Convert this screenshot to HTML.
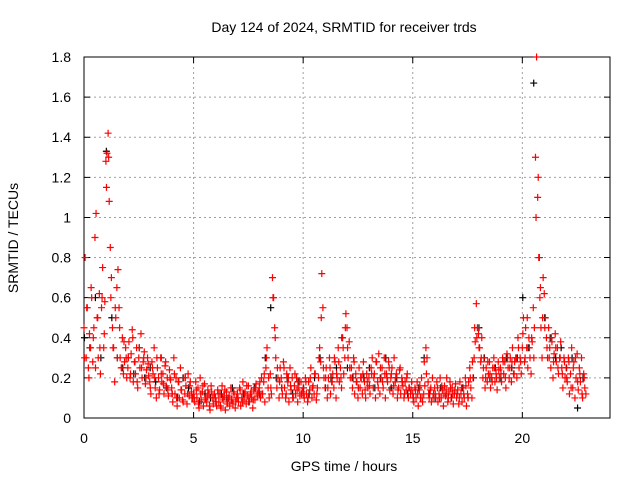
<!DOCTYPE html>
<html><head><meta charset="utf-8"><style>
body{margin:0;background:#fff;}
svg{display:block;font-family:"Liberation Sans",sans-serif;}
</style></head><body>
<svg id="chart" width="640" height="480" viewBox="0 0 640 480">
<rect width="640" height="480" fill="#fff"/>
<g id="grid"></g><g id="axes"></g><g id="black"></g><g id="red"></g>
<text x="344" y="32" font-size="14" text-anchor="middle">Day 124 of 2024, SRMTID for receiver trds</text>
<text x="344" y="471" font-size="14" text-anchor="middle">GPS time / hours</text>
<text x="18" y="238" font-size="14" text-anchor="middle" transform="rotate(-90 18 238)">SRMTID / TECUs</text>
</svg>
<script>
const xTicks=[0,5,10,15,20];
const yTicks=[0,0.2,0.4,0.6,0.8,1,1.2,1.4,1.6,1.8];
const yTickLabels=["0","0.2","0.4","0.6","0.8","1","1.2","1.4","1.6","1.8"];
const redStart=0, redStep=0.05;
const redValues=[
0.45,0.8,0.3,0.55,0.25,0.42,0.35,0.6,0.28,0.45,0.9,1.02,0.5,0.3,0.62,0.22,0.55,0.75,0.35,0.58,
1.28,1.32,1.42,1.08,0.85,0.7,0.45,0.35,0.18,0.5,0.65,0.74,0.55,0.3,0.25,0.4,0.22,0.28,0.35,0.2,
0.25,0.38,0.2,0.32,0.44,0.18,0.28,0.22,0.35,0.15,0.3,0.25,0.42,0.2,0.28,0.33,0.17,0.24,0.3,0.21,
0.18,0.12,0.28,0.22,0.35,0.15,0.1,0.25,0.2,0.14,0.3,0.18,0.22,0.12,0.26,0.16,0.2,0.11,0.24,0.19,
0.15,0.08,0.3,0.12,0.2,0.06,0.18,0.1,0.25,0.14,0.09,0.2,0.12,0.16,0.07,0.22,0.11,0.18,0.13,0.1,
0.12,0.08,0.18,0.1,0.15,0.05,0.2,0.09,0.13,0.06,0.17,0.1,0.08,0.14,0.12,0.04,0.16,0.1,0.07,0.12,
0.1,0.06,0.14,0.08,0.12,0.05,0.16,0.09,0.11,0.04,0.13,0.08,0.1,0.06,0.15,0.09,0.07,0.12,0.05,0.1,
0.12,0.08,0.15,0.06,0.1,0.18,0.09,0.13,0.07,0.11,0.16,0.08,0.12,0.1,0.05,0.14,0.09,0.17,0.11,0.13,
0.15,0.1,0.2,0.12,0.18,0.08,0.25,0.35,0.15,0.1,0.22,0.12,0.7,0.6,0.45,0.3,0.15,0.2,0.1,0.25,
0.2,0.12,0.28,0.15,0.1,0.22,0.18,0.08,0.25,0.14,0.2,0.1,0.16,0.12,0.2,0.08,0.15,0.11,0.18,0.13,
0.15,0.1,0.2,0.12,0.08,0.18,0.14,0.25,0.1,0.16,0.12,0.22,0.09,0.15,0.2,0.35,0.28,0.72,0.55,0.2,
0.15,0.25,0.1,0.2,0.3,0.12,0.18,0.22,0.15,0.28,0.1,0.2,0.35,0.18,0.25,0.15,0.4,0.22,0.3,0.52,
0.45,0.3,0.38,0.2,0.25,0.15,0.3,0.12,0.22,0.18,0.1,0.25,0.15,0.2,0.12,0.28,0.18,0.1,0.22,0.15,
0.2,0.12,0.25,0.3,0.15,0.22,0.1,0.28,0.18,0.32,0.12,0.2,0.25,0.15,0.3,0.1,0.22,0.18,0.28,0.14,
0.2,0.25,0.12,0.3,0.18,0.22,0.1,0.15,0.24,0.12,0.2,0.16,0.1,0.18,0.14,0.22,0.1,0.15,0.12,0.18,
0.12,0.08,0.15,0.1,0.18,0.06,0.14,0.1,0.2,0.08,0.12,0.16,0.35,0.3,0.18,0.1,0.14,0.08,0.2,0.12,
0.15,0.1,0.18,0.08,0.12,0.2,0.1,0.14,0.06,0.16,0.11,0.2,0.08,0.13,0.18,0.1,0.15,0.07,0.12,0.17,
0.1,0.14,0.07,0.18,0.12,0.08,0.15,0.1,0.2,0.06,0.12,0.18,0.25,0.15,0.1,0.2,0.3,0.38,0.57,0.45,
0.42,0.35,0.28,0.4,0.2,0.3,0.15,0.25,0.18,0.22,0.28,0.15,0.2,0.25,0.3,0.18,0.22,0.14,0.28,0.2,
0.25,0.18,0.3,0.22,0.28,0.15,0.32,0.25,0.2,0.3,0.18,0.35,0.22,0.28,0.3,0.2,0.4,0.25,0.3,0.22,
0.35,0.5,0.28,0.45,0.35,0.25,0.4,0.3,0.22,0.38,0.55,0.45,1.3,1.8,1.1,0.8,0.6,0.45,0.3,0.7,
0.62,0.5,0.4,0.3,0.45,0.35,0.25,0.38,0.2,0.32,0.42,0.28,0.35,0.22,0.3,0.38,0.25,0.15,0.3,0.2,
0.25,0.18,0.3,0.12,0.22,0.35,0.15,0.28,0.1,0.2,0.32,0.14,0.25,0.18,0.3,0.1,0.22,0.15,0.12];
const red2Start=0.025, red2Step=0.1;
const red2Values=[
0.3,0.55,0.2,0.65,0.4,0.25,0.5,0.35,0.6,0.42,
1.15,1.3,0.6,0.35,0.55,0.3,0.45,0.25,0.38,0.3,
0.3,0.22,0.4,0.28,0.18,0.35,0.25,0.3,0.2,0.27,
0.15,0.25,0.2,0.3,0.12,0.22,0.17,0.28,0.14,0.2,
0.12,0.22,0.1,0.18,0.14,0.08,0.2,0.12,0.16,0.1,
0.1,0.14,0.07,0.12,0.16,0.09,0.11,0.06,0.13,0.1,
0.08,0.12,0.06,0.1,0.14,0.07,0.11,0.09,0.13,0.08,
0.1,0.14,0.08,0.12,0.16,0.1,0.13,0.09,0.15,0.12,
0.18,0.12,0.22,0.3,0.2,0.15,0.6,0.4,0.25,0.18,
0.15,0.25,0.12,0.2,0.16,0.1,0.22,0.14,0.18,0.12,
0.12,0.18,0.1,0.2,0.15,0.22,0.12,0.3,0.5,0.25,
0.2,0.15,0.25,0.18,0.3,0.22,0.28,0.2,0.35,0.45,
0.35,0.25,0.2,0.28,0.18,0.15,0.2,0.22,0.14,0.18,
0.16,0.22,0.2,0.28,0.15,0.25,0.18,0.22,0.2,0.25,
0.22,0.16,0.2,0.14,0.25,0.18,0.12,0.2,0.15,0.14,
0.1,0.14,0.12,0.16,0.1,0.28,0.22,0.12,0.15,0.1,
0.12,0.15,0.1,0.16,0.12,0.14,0.1,0.15,0.12,0.14,
0.12,0.1,0.15,0.12,0.16,0.1,0.2,0.28,0.45,0.4,
0.35,0.3,0.25,0.2,0.28,0.22,0.18,0.25,0.2,0.24,
0.22,0.28,0.2,0.3,0.25,0.28,0.22,0.3,0.35,0.28,
0.42,0.3,0.5,0.35,0.4,0.3,1.0,1.2,0.65,0.5,
0.45,0.35,0.3,0.4,0.28,0.35,0.25,0.3,0.22,0.28,
0.2,0.28,0.15,0.25,0.3,0.18,0.22,0.12,0.2];
const blackStart=0.02, blackStep=0.25;
const blackValues=[0.4,0.35,0.6,0.3,1.33,0.5,0.3,0.25,0.3,0.22,0.35,0.2,0.25,0.18,0.3,0.15,
0.12,0.1,0.2,0.15,0.1,0.08,0.12,0.1,0.08,0.12,0.1,0.15,0.1,0.12,0.08,0.15,
0.12,0.3,0.55,0.2,0.15,0.2,0.12,0.18,0.15,0.12,0.2,0.3,0.15,0.2,0.25,0.4,
0.25,0.2,0.15,0.2,0.25,0.15,0.2,0.3,0.15,0.2,0.18,0.12,0.1,0.15,0.3,0.12,
0.1,0.15,0.12,0.1,0.12,0.15,0.1,0.2,0.45,0.3,0.2,0.25,0.2,0.3,0.25,0.3,
0.6,0.35,1.67,0.8,0.5,0.4,0.3,0.35,0.25,0.3,0.05,0.2];
const L=84,R=610,T=57,B=418,XMAX=24,YMAX=1.8;
const xs=v=>L+(R-L)*v/XMAX, ys=v=>B-(B-T)*v/YMAX;
const NS="http://www.w3.org/2000/svg";
function mk(tag,attrs,parent){const e=document.createElementNS(NS,tag);for(const k in attrs)e.setAttribute(k,attrs[k]);parent.appendChild(e);return e;}
const grid=document.getElementById('grid'),axes=document.getElementById('axes');
xTicks.forEach(t=>{const x=xs(t);
 if(t>0){const g=mk('line',{x1:x,y1:T,x2:x,y2:B,stroke:'#a0a0a0','stroke-dasharray':'2,3'},grid);
 }
 const k=mk('path',{d:`M${x},${B}v-6M${x},${T}v6`,stroke:'#000'},axes);
 
 const l=mk('text',{x:x,y:443,'font-size':14,'text-anchor':'middle'},axes);l.textContent=t;
 });
yTicks.forEach((t,i)=>{const y=ys(t);
 if(t>0&&t<YMAX){const g=mk('line',{x1:L,y1:y,x2:R,y2:y,stroke:'#a0a0a0','stroke-dasharray':'2,3'},grid);
 }
 const k=mk('path',{d:`M${L},${y}h6M${R},${y}h-6`,stroke:'#000'},axes);
 
 const l=mk('text',{x:71,y:y+5,'font-size':14,'text-anchor':'end'},axes);l.textContent=yTickLabels[i];
 });
const fr=mk('rect',{x:L,y:T,width:R-L,height:B-T,fill:'none',stroke:'#000'},axes);

function plus(g,t,v,c){const x=xs(t),y=ys(v);
 return mk('path',{d:`M${x-3.5},${y}h7M${x},${y-3.5}v7`,stroke:c,'stroke-width':1.2},g);}
const bg=document.getElementById('black');
blackValues.forEach((v,i)=>{const p=plus(bg,blackStart+i*blackStep,v,'#000');
 
 });
const rg=document.getElementById('red');
redValues.forEach((v,i)=>{const p=plus(rg,redStart+i*redStep,v,'#ff0000');
 
 });
red2Values.forEach((v,i)=>{const p=plus(rg,red2Start+i*red2Step,v,'#ff0000');
 
 });
</script>
</body></html>
